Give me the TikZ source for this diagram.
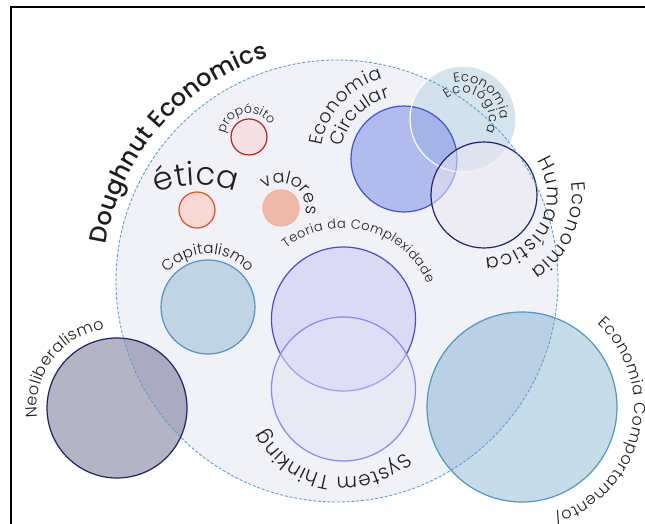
\documentclass[tikz,border=0pt]{standalone}
\usepackage{fontspec}
\setmainfont{Poppins}
\newfontfamily\popl{Poppins Light}
\newfontfamily\popm{Poppins Medium}
\usetikzlibrary{decorations.text,calc}
\definecolor{txt}{HTML}{1E1E1E}
\definecolor{bigdash}{HTML}{5B9FD0}
\definecolor{overlay}{RGB}{25,25,150}
\definecolor{neofill}{HTML}{B4B4C4}
\definecolor{neoline}{HTML}{22226A}
\definecolor{compfill}{HTML}{C6DCE9}
\definecolor{compline}{HTML}{4C98C4}
\definecolor{capfill}{HTML}{C0D4E4}
\definecolor{capline}{HTML}{4F97C2}
\definecolor{teofill}{HTML}{DADAF5}
\definecolor{teoline}{HTML}{4A4AD8}
\definecolor{sysfill}{RGB}{227,227,245}
\definecolor{sysline}{HTML}{8888EE}
\definecolor{circfill}{RGB}{134,148,230}
\definecolor{circline}{HTML}{4052D8}
\definecolor{ecofill}{RGB}{200,220,232}
\definecolor{humfill}{RGB}{232,232,238}
\definecolor{humline}{HTML}{24246E}
\definecolor{propfill}{HTML}{F6E2E6}
\definecolor{propline}{HTML}{C02020}
\definecolor{eticfill}{HTML}{F8D8D4}
\definecolor{eticline}{HTML}{E84C1C}
\definecolor{valfill}{HTML}{EFB9AA}
\definecolor{valline}{HTML}{F7AD98}
\tikzset{
  ring/.style={circle, inner sep=0pt, minimum size=#1},
  edge/.style={line width=1.2pt},
}
% #1 centre, #2 radius, #3 start angle, #4 end angle, #5 font size, #6 font, #7 text
\newcommand{\arctext}[7]{%
  \path[decorate, decoration={text along path, text align={fit to path},
    text={|#6\fontsize{#5}{#5}\selectfont\color{txt}|#7}}]
    ($(#1)+(#3:#2)$) arc[start angle=#3, end angle=#4, radius=#2];}
\begin{document}
\begin{tikzpicture}[x=1pt,y=1pt]
\useasboundingbox (0,0) rectangle (645,524);
\fill[white] (0,0) rectangle (645,524);
\begin{scope}
\clip (0,0) rectangle (645,524);
\draw[line width=2pt] (11,-20) rectangle (700,517);

% circles partly outside the big circle
\node[ring=140pt, fill=neofill] (neo) at (117,116) {};
\node[ring=190pt, fill=compfill] (comp) at (522,117) {};
% big circle tint
\node[ring=442pt, fill=overlay, fill opacity=0.06] (big) at (337,243) {};

% inner circles
\node[ring=94pt, fill=capfill, draw=capline, edge] (cap) at (208,217) {};
\node[ring=144pt, fill=teofill, draw=teoline, edge] (teo) at (343.5,205) {};
\node[ring=144pt, fill=sysfill, fill opacity=0.55, draw=sysline, draw opacity=1, edge] (sys) at (343.5,135) {};
\node[ring=106pt, fill=ecofill, fill opacity=0.75] (eco) at (463,405) {};
\node[ring=106pt, fill=circfill, fill opacity=0.58, draw=circline, draw opacity=1, edge] (circ) at (404,365) {};
\draw[white, line width=1.2pt] (eco.center) circle[radius=53];
\node[ring=106pt, fill=humfill, fill opacity=0.55, draw=humline, draw opacity=1, edge] (hum) at (484,329) {};
\node[ring=36pt, fill=propfill, draw=propline, edge] (prop) at (249,387) {};
\node[ring=36pt, fill=eticfill, draw=eticline, edge] (etic) at (197,314) {};
\node[ring=36pt, fill=valfill, draw=valline, edge] (val) at (281,316) {};

% borders of outer circles and dashed big circle
\draw[neoline, edge] (neo.center) circle[radius=70];
\draw[compline, edge] (comp.center) circle[radius=95];
\draw[bigdash, line width=0.9pt, dash pattern=on 3pt off 1.8pt] (big.center) circle[radius=221];

\coordinate (eticarc) at (198,234);

% texts
\arctext{big.center}{234}{171}{107}{24}{\popm}{Doughnut Economics}
\arctext{prop.center}{24}{172}{30}{12.5}{\popl}{propósito}
\arctext{eticarc}{105}{113}{69}{32}{\popl}{ética}
\arctext{val.center}{25}{130}{-8}{17.5}{\popl}{valores}
\arctext{circ.center}{83}{171}{105}{18.5}{\popl}{Economia}
\arctext{circ.center}{63}{169}{103}{18.5}{\popl}{Circular}
\arctext{eco.center}{37}{104}{0}{13}{\popl}{Economia}
\arctext{eco.center}{26}{129}{-30}{13}{\popl}{Ecológica}
\arctext{hum.center}{63}{33}{-89}{19.5}{\popl}{Humanística}
\arctext{hum.center}{88}{8}{-58}{19}{\popl}{Economia}
\arctext{cap.center}{53}{140}{40}{15}{\popl}{Capitalismo}
\arctext{teo.center}{91}{129}{23}{13}{\popl}{Teoria da Complexidade}
\arctext{sys.center}{88}{-46}{-153}{20}{\popl}{System Thinking}
\arctext{neo.center}{80}{187}{99}{16}{\popl}{Neoliberalismo}
\arctext{comp.center}{112}{48}{-74}{16}{\popl}{Economia Comportamento/}
\end{scope}
\end{tikzpicture}
\end{document}
